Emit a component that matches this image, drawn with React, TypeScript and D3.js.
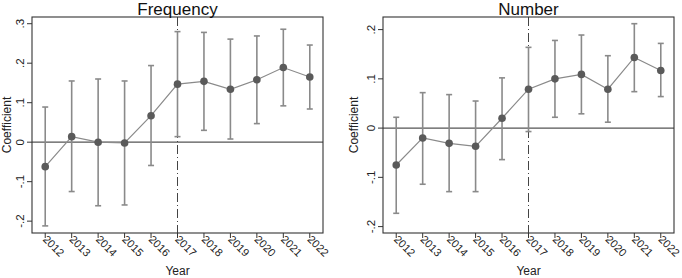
import React, { useRef, useEffect } from "react";
import * as d3 from "d3";

// event-study coefficients with 95% confidence bands
const years = [2012, 2013, 2014, 2015, 2016, 2017, 2018, 2019, 2020, 2021, 2022];

const freqCoef = [-0.062, 0.014, 0.0, -0.002, 0.067, 0.147, 0.154, 0.134, 0.158, 0.189, 0.165];
const freqLow = [-0.212, -0.125, -0.161, -0.159, -0.059, 0.014, 0.03, 0.008, 0.047, 0.092, 0.084];
const freqHigh = [0.089, 0.155, 0.16, 0.155, 0.194, 0.28, 0.278, 0.261, 0.269, 0.286, 0.246];

const numCoef = [-0.075, -0.02, -0.031, -0.037, 0.02, 0.079, 0.1, 0.109, 0.079, 0.1435, 0.117];
const numLow = [-0.173, -0.114, -0.129, -0.129, -0.064, -0.007, 0.022, 0.029, 0.012, 0.074, 0.064];
const numHigh = [0.022, 0.072, 0.068, 0.055, 0.102, 0.164, 0.178, 0.189, 0.147, 0.212, 0.172];

const freqTicks = [-0.2, -0.1, 0, 0.1, 0.2, 0.3];
const numTicks = [-0.2, -0.1, 0, 0.1, 0.2];

// stata-style tick labels: ".1", "-.2", "0"
const fmt = (v) => {
	if (Math.abs(v) < 1e-9) return "0";
	return v.toFixed(1).replace("0.", ".");
};

const FONT = "Arial, 'Liberation Sans', sans-serif";

const drawPanel = (svg, opts) => {
	const { left, right, top, bottom, yDomain, ticks, coef, low, high, title, titleOffset } = opts;

	const x = d3.scaleLinear().domain([2011.5, 2022.5]).range([left, right]);
	const y = d3.scaleLinear().domain(yDomain).range([bottom, top]);

	const g = svg.append("g");

	// zero reference line
	g.append("line")
		.attr("x1", left).attr("x2", right)
		.attr("y1", y(0)).attr("y2", y(0))
		.attr("stroke", "#555").attr("stroke-width", 1.2);

	// treatment year marker
	g.append("line")
		.attr("x1", x(2017)).attr("x2", x(2017))
		.attr("y1", top).attr("y2", bottom)
		.attr("stroke", "#444").attr("stroke-width", 1)
		.attr("stroke-dasharray", "9,3,1,3");

	// confidence intervals
	const ci = g.append("g").attr("stroke", "#8a8a8a").attr("stroke-width", 1.6);
	years.forEach((yr, i) => {
		ci.append("line")
			.attr("x1", x(yr)).attr("x2", x(yr))
			.attr("y1", y(low[i])).attr("y2", y(high[i]));
		[low[i], high[i]].forEach(v => {
			ci.append("line")
				.attr("x1", x(yr) - 3).attr("x2", x(yr) + 3)
				.attr("y1", y(v)).attr("y2", y(v));
		});
	});

	// coefficient path
	const line = d3.line().x((d, i) => x(years[i])).y(d => y(d));
	g.append("path")
		.datum(coef)
		.attr("d", line)
		.attr("fill", "none")
		.attr("stroke", "#8a8a8a")
		.attr("stroke-width", 1.2);

	g.selectAll("circle.pt")
		.data(coef)
		.enter()
		.append("circle")
		.attr("class", "pt")
		.attr("cx", (d, i) => x(years[i]))
		.attr("cy", d => y(d))
		.attr("r", 3.8)
		.attr("fill", "#5a5a5a");

	// plot frame
	g.append("rect")
		.attr("x", left).attr("y", top)
		.attr("width", right - left).attr("height", bottom - top)
		.attr("fill", "none").attr("stroke", "#333").attr("stroke-width", 1.1);

	// y axis
	const yAxis = g.append("g").attr("font-family", FONT).attr("font-size", 11.5).attr("fill", "#222");
	ticks.forEach(t => {
		yAxis.append("line")
			.attr("x1", left - 5).attr("x2", left)
			.attr("y1", y(t)).attr("y2", y(t))
			.attr("stroke", "#333");
		yAxis.append("text")
			.attr("transform", `translate(${left - 8},${y(t)}) rotate(-90)`)
			.attr("text-anchor", "middle")
			.text(fmt(t));
	});

	// x axis
	const xAxis = g.append("g").attr("font-family", FONT).attr("font-size", 11).attr("fill", "#222");
	years.forEach(yr => {
		xAxis.append("line")
			.attr("x1", x(yr)).attr("x2", x(yr))
			.attr("y1", bottom).attr("y2", bottom + 5)
			.attr("stroke", "#333");
		xAxis.append("text")
			.attr("transform", `translate(${x(yr) - 3},${bottom + 7}) rotate(45)`)
			.attr("text-anchor", "start")
			.text(yr);
	});

	// titles
	svg.append("text")
		.attr("x", (left + right) / 2).attr("y", 14.5)
		.attr("text-anchor", "middle")
		.attr("font-family", FONT).attr("font-size", 17).attr("fill", "#111")
		.text(title);

	svg.append("text")
		.attr("x", (left + right) / 2).attr("y", 274.5)
		.attr("text-anchor", "middle")
		.attr("font-family", FONT).attr("font-size", 12).attr("fill", "#222")
		.text("Year");

	svg.append("text")
		.attr("transform", `translate(${left - titleOffset},${(top + bottom) / 2}) rotate(-90)`)
		.attr("text-anchor", "middle")
		.attr("font-family", FONT).attr("font-size", 12).attr("fill", "#222")
		.text("Coefficient");
};

const App = () => {
	const ref = useRef(null);

	useEffect(() => {
		const svg = d3.select(ref.current);
		svg.selectAll("*").remove();

		drawPanel(svg, {
			left: 32, right: 323, top: 17, bottom: 233,
			yDomain: [-0.23, 0.317],
			ticks: freqTicks,
			coef: freqCoef, low: freqLow, high: freqHigh,
			title: "Frequency",
			titleOffset: 21,
		});

		drawPanel(svg, {
			left: 383, right: 674, top: 17, bottom: 233,
			yDomain: [-0.213, 0.2256],
			ticks: numTicks,
			coef: numCoef, low: numLow, high: numHigh,
			title: "Number",
			titleOffset: 25,
		});
	}, []);

	return (
		<svg
			ref={ref}
			width={682}
			height={278}
			style={{ position: "absolute", left: 0, top: 0, background: "#fff" }}
		/>
	);
};

export default App;
